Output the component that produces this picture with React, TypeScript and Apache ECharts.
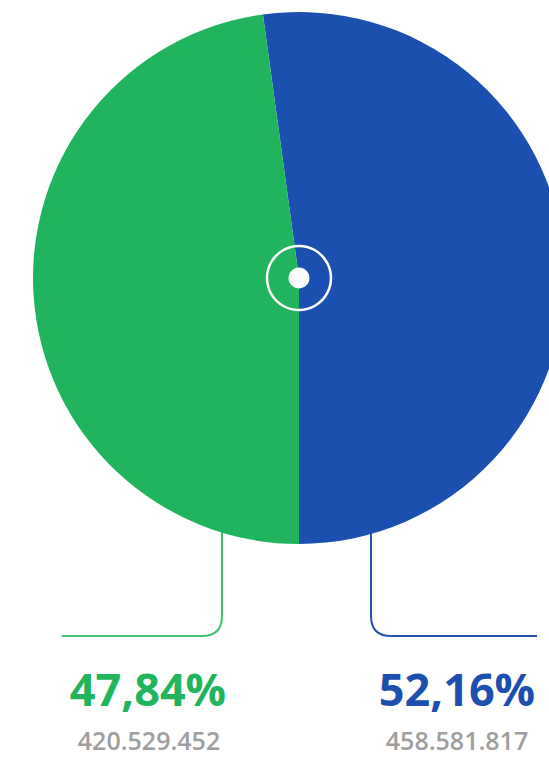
import React, { useEffect, useRef } from "react";
import * as echarts from "echarts";

const names = ["Azul", "Verde"];
const values = [458581817, 420529452];
const colors = ["#1C50B0", "#20B55C"];
const lineColors = ["#2452B0", "#3CC46C"];

const total = values[0] + values[1];
const pct = values.map((v) => (v / total) * 100);
const fmtPct = (p: number) => p.toFixed(2).replace(".", ",") + "%";
const fmtNum = (n: number) => String(n).replace(/\B(?=(\d{3})+(?!\d))/g, ".");

const CX = 299;
const CY = 278;
const R = 266;

export default function App() {
  const ref = useRef<HTMLDivElement>(null);
  useEffect(() => {
    if (!ref.current) return;
    const gx = 222;
    const bx = 371;
    const hy = 636;
    const gy = CY + Math.sqrt(R * R - (CX - gx) * (CX - gx)) - 3;
    const by = CY + Math.sqrt(R * R - (bx - CX) * (bx - CX)) - 3;
    const gl = hy - gy;
    const bl = hy - by;
    echarts.graphic.registerShape(
      "leaderLeft",
      echarts.graphic.extendPath(
        `M0 0 L0 ${gl - 20} Q0 ${gl} -20 ${gl} L-160 ${gl}`,
        {}
      )
    );
    echarts.graphic.registerShape(
      "leaderRight",
      echarts.graphic.extendPath(
        `M0 0 L0 ${bl - 20} Q0 ${bl} 20 ${bl} L166 ${bl}`,
        {}
      )
    );
    const chart = echarts.init(ref.current, null, { renderer: "svg" });
    const blueDeg = (pct[0] / 100) * 360;
    const startAngle = -90 + blueDeg;
    const font = "'Open Sans', 'Noto Sans', sans-serif";
    chart.setOption({
      animation: false,
      series: [
        {
          type: "pie",
          center: [CX, CY],
          radius: R,
          startAngle,
          clockwise: true,
          label: { show: false },
          labelLine: { show: false },
          silent: true,
          z: 5,
          data: values.map((v, i) => ({
            value: v,
            name: names[i],
            itemStyle: { color: colors[i] },
          })),
        },
      ],
      graphic: [
        {
          type: "leaderLeft",
          x: gx,
          y: gy,
          z: 1,
          style: { fill: "none", stroke: lineColors[1], lineWidth: 2 },
        },
        {
          type: "leaderRight",
          x: bx,
          y: by,
          z: 1,
          style: { fill: "none", stroke: lineColors[0], lineWidth: 2 },
        },
        {
          type: "circle",
          z: 100,
          shape: { cx: CX, cy: CY, r: 32 },
          style: { fill: "none", stroke: "#ffffff", lineWidth: 2.5 },
        },
        {
          type: "circle",
          z: 100,
          shape: { cx: CX, cy: CY, r: 10.5 },
          style: { fill: "#ffffff" },
        },
        {
          type: "text",
          x: 148,
          y: 688,
          style: {
            text: fmtPct(pct[1]),
            fill: colors[1],
            font: `bold 45px ${font}`,
            textAlign: "center",
            textVerticalAlign: "middle",
          },
        },
        {
          type: "text",
          x: 149,
          y: 740,
          style: {
            text: fmtNum(values[1]),
            fill: "#9E9E9E",
            font: `600 25px ${font}`,
            lineHeight: 25,
            textAlign: "center",
            textVerticalAlign: "middle",
          },
        },
        {
          type: "text",
          x: 457,
          y: 688,
          style: {
            text: fmtPct(pct[0]),
            fill: colors[0],
            font: `bold 45px ${font}`,
            textAlign: "center",
            textVerticalAlign: "middle",
          },
        },
        {
          type: "text",
          x: 457,
          y: 740,
          style: {
            text: fmtNum(values[0]),
            fill: "#9E9E9E",
            font: `600 25px ${font}`,
            lineHeight: 25,
            textAlign: "center",
            textVerticalAlign: "middle",
          },
        },
      ],
    });
    return () => chart.dispose();
  }, []);
  return (
    <div
      ref={ref}
      style={{ position: "fixed", left: 0, top: 0, width: 549, height: 757, background: "#ffffff" }}
    />
  );
}
